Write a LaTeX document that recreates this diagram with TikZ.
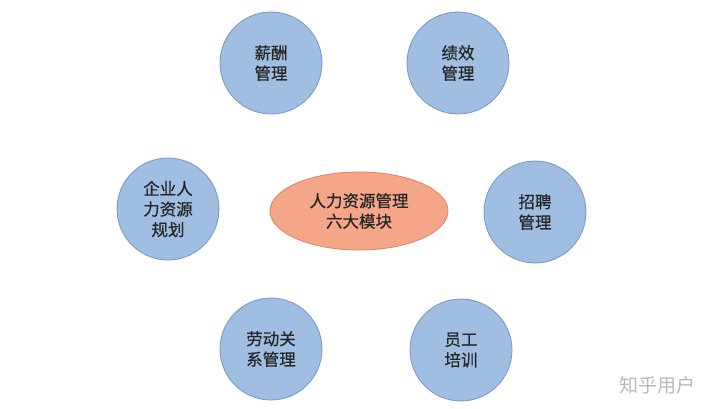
\documentclass[tikz,border=0pt]{standalone}
\usepackage{fontspec}
\newfontfamily\cjk[FakeBold=0.6]{Noto Sans CJK SC}
\newfontfamily\cjkwm{Noto Sans CJK SC}
\usetikzlibrary{shapes.geometric}
\definecolor{bfill}{RGB}{160,189,226}
\definecolor{bdraw}{RGB}{118,150,196}
\definecolor{ofill}{RGB}{245,166,136}
\definecolor{odraw}{RGB}{222,128,96}
\definecolor{wm}{RGB}{185,185,185}
\begin{document}
\begin{tikzpicture}[x=1pt,y=-1pt,
  mod/.style={circle,draw=bdraw,fill=bfill,line width=0.8pt,minimum size=102pt,inner sep=0pt,
    font=\cjk\fontsize{16.5}{20.5}\selectfont,align=center,text=black!85},
  hub/.style={ellipse,draw=odraw,fill=ofill,line width=0.8pt,minimum width=178pt,minimum height=78pt,inner sep=0pt,
    font=\cjk\fontsize{16.5}{20.5}\selectfont,align=center,text=black!85}]
\useasboundingbox (0,0) rectangle (720,409);
\fill[white] (0,0) rectangle (720,409);
\node[hub] (c) at (359,211) {人力资源管理\\六大模块};
\node[mod] (xc) at (271,63) {薪酬\\管理};
\node[mod] (jx) at (458,63) {绩效\\管理};
\node[mod] (gh) at (168,209) {企业人\\力资源\\规划};
\node[mod] (zp) at (535,212) {招聘\\管理};
\node[mod] (ld) at (271,349) {劳动关\\系管理};
\node[mod] (px) at (461,350) {员工\\培训};
\node[font=\cjkwm\fontsize{19}{22}\selectfont,text=wm] (wmk) at (657,385) {知乎用户};
\end{tikzpicture}
\end{document}
